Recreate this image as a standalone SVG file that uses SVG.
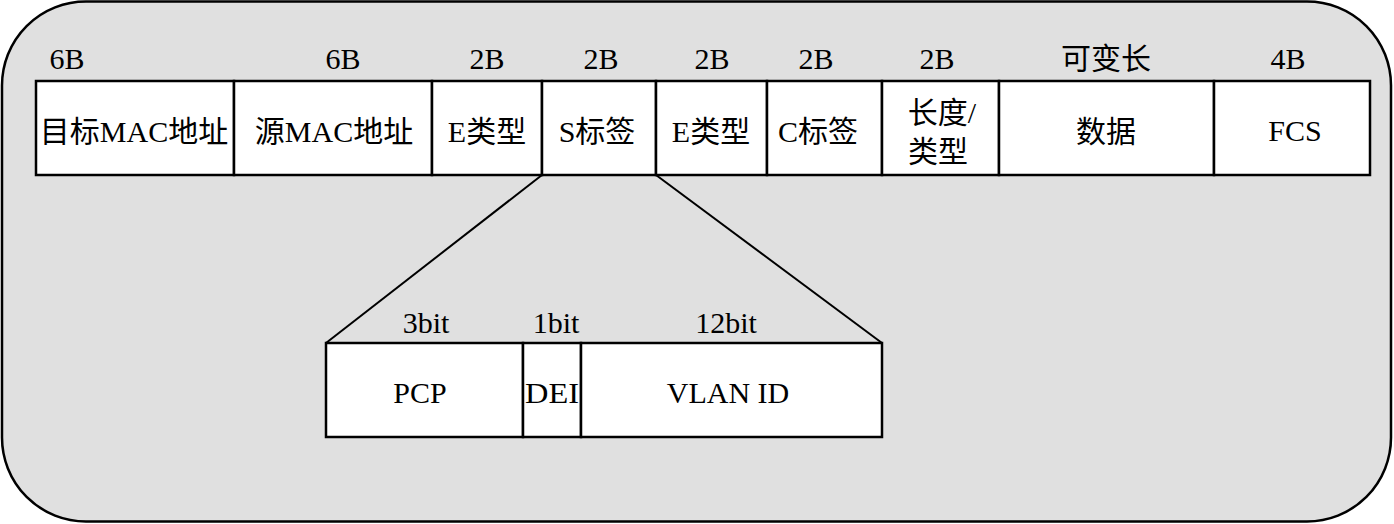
<svg xmlns="http://www.w3.org/2000/svg" width="1394" height="524" viewBox="0 0 1394 524">
<style>
.cell{fill:#fff;stroke:#000;stroke-width:2.5}
.t{font-family:"Liberation Serif","Noto Sans CJK SC",serif;font-size:30px;fill:#000;text-anchor:middle}
.ln{stroke:#000;stroke-width:2;fill:none}
</style>
<rect id="frame" x="2" y="1.5" width="1389" height="520" rx="84" ry="84" fill="#e0e0e0" stroke="#000" stroke-width="2.5"/>
<g id="sizes">
<text class="t" x="67" y="69">6B</text>
<text class="t" x="343" y="69">6B</text>
<text class="t" x="487" y="69">2B</text>
<text class="t" x="601" y="69">2B</text>
<text class="t" x="712" y="69">2B</text>
<text class="t" x="816" y="69">2B</text>
<text class="t" x="937" y="69">2B</text>
<text class="t" x="1106" y="69">可变长</text>
<text class="t" x="1288" y="69">4B</text>
</g>
<g id="f1"><rect class="cell" x="36" y="81" width="198" height="94"/><text class="t" x="134" y="142">目标MAC地址</text></g>
<g id="f2"><rect class="cell" x="234" y="81" width="198" height="94"/><text class="t" x="334" y="142">源MAC地址</text></g>
<g id="f3"><rect class="cell" x="432" y="81" width="110" height="94"/><text class="t" x="487" y="142">E类型</text></g>
<g id="f4"><rect class="cell" x="542" y="81" width="114" height="94"/><text class="t" x="597" y="142">S标签</text></g>
<g id="f5"><rect class="cell" x="656" y="81" width="111" height="94"/><text class="t" x="711" y="142">E类型</text></g>
<g id="f6"><rect class="cell" x="767" y="81" width="115" height="94"/><text class="t" x="818" y="142">C标签</text></g>
<g id="f7"><rect class="cell" x="882" y="81" width="117" height="94"/><text class="t" x="942" y="123">长度/</text><text class="t" x="938" y="162">类型</text></g>
<g id="f8"><rect class="cell" x="999" y="81" width="215" height="94"/><text class="t" x="1106" y="142">数据</text></g>
<g id="f9"><rect class="cell" x="1214" y="81" width="156" height="94"/><text class="t" x="1295" y="141">FCS</text></g>
<g id="connectors">
<line class="ln" x1="542" y1="175" x2="326" y2="343"/>
<line class="ln" x1="656" y1="175" x2="882" y2="343"/>
</g>
<g id="bits">
<text class="t" x="426" y="333">3bit</text>
<text class="t" x="556" y="333">1bit</text>
<text class="t" x="726" y="333">12bit</text>
</g>
<g id="pcp"><rect class="cell" x="326" y="343" width="197" height="94"/><text class="t" x="420" y="403">PCP</text></g>
<g id="dei"><rect class="cell" x="523" y="343" width="58" height="94"/><text class="t" x="552" y="403" textLength="54" lengthAdjust="spacingAndGlyphs">DEI</text></g>
<g id="vid"><rect class="cell" x="581" y="343" width="301" height="94"/><text class="t" x="728" y="403">VLAN ID</text></g>
</svg>
